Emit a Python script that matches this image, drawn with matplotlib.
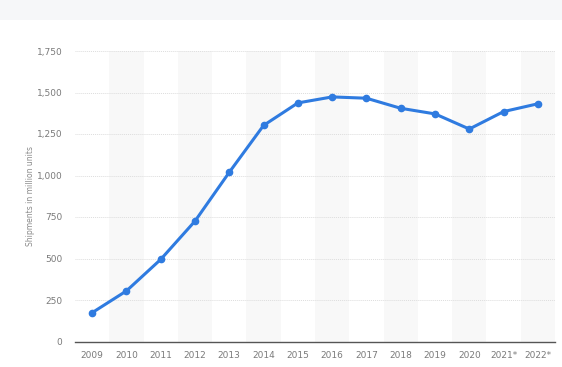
import numpy as np
import matplotlib.pyplot as plt
from matplotlib.patches import Rectangle

# dados do gráfico
anos = ['2009', '2010', '2011', '2012', '2013', '2014', '2015', '2016',
        '2017', '2018', '2019', '2020', '2021*', '2022*']
envios = [173.5, 304.7, 494.5, 725.3, 1019.5, 1301.7, 1437.2, 1473.4,
          1465.5, 1404.9, 1371.1, 1280.0, 1385.0, 1432.0]
y_ticks = [0, 250, 500, 750, 1000, 1250, 1500, 1750]

fig = plt.figure(figsize=(5.62, 3.67), dpi=100)
fig.patch.set_facecolor('white')
# faixa cinza no topo
fig.patches.append(Rectangle((0, 1 - 20 / 367), 1, 20 / 367, transform=fig.transFigure,
                             facecolor='#f6f7f9', edgecolor='none', zorder=0))

ax = fig.add_axes([75 / 562, 1 - 341.5 / 367, 480 / 562, (341.5 - 51) / 367])
x = np.arange(len(anos))

# faixas alternadas
for i in x:
    if i % 2 == 1:
        ax.axvspan(i - 0.5, i + 0.5, color='#f8f8f8', zorder=0, lw=0)

for t in y_ticks[1:]:
    ax.axhline(t, color='#dddddd', lw=0.7, ls=(0, (1, 1)), zorder=1)

ax.plot(x, envios, color='#2f7be0', lw=2.2, marker='o', markersize=4.5, zorder=3,
        solid_capstyle='round')

ax.set_xlim(-0.5, 13.5)
ax.set_ylim(0, 1750)
ax.set_xticks(x)
ax.set_xticklabels(anos)
ax.set_yticks(y_ticks)
ax.set_yticklabels([f'{t:,}' for t in y_ticks])
ax.tick_params(axis='both', length=0, labelsize=6.5, colors='#7a7a7a')
ax.tick_params(axis='x', pad=7)
ax.tick_params(axis='y', pad=9)
for lado in ['top', 'right', 'left']:
    ax.spines[lado].set_visible(False)
ax.spines['bottom'].set_color('#555555')
ax.spines['bottom'].set_linewidth(1.0)
ax.set_facecolor('none')
ax.set_ylabel('Shipments in million units', fontsize=5.5, color='#8a8a8a', labelpad=1)

fig.savefig('out.png', dpi=100)
